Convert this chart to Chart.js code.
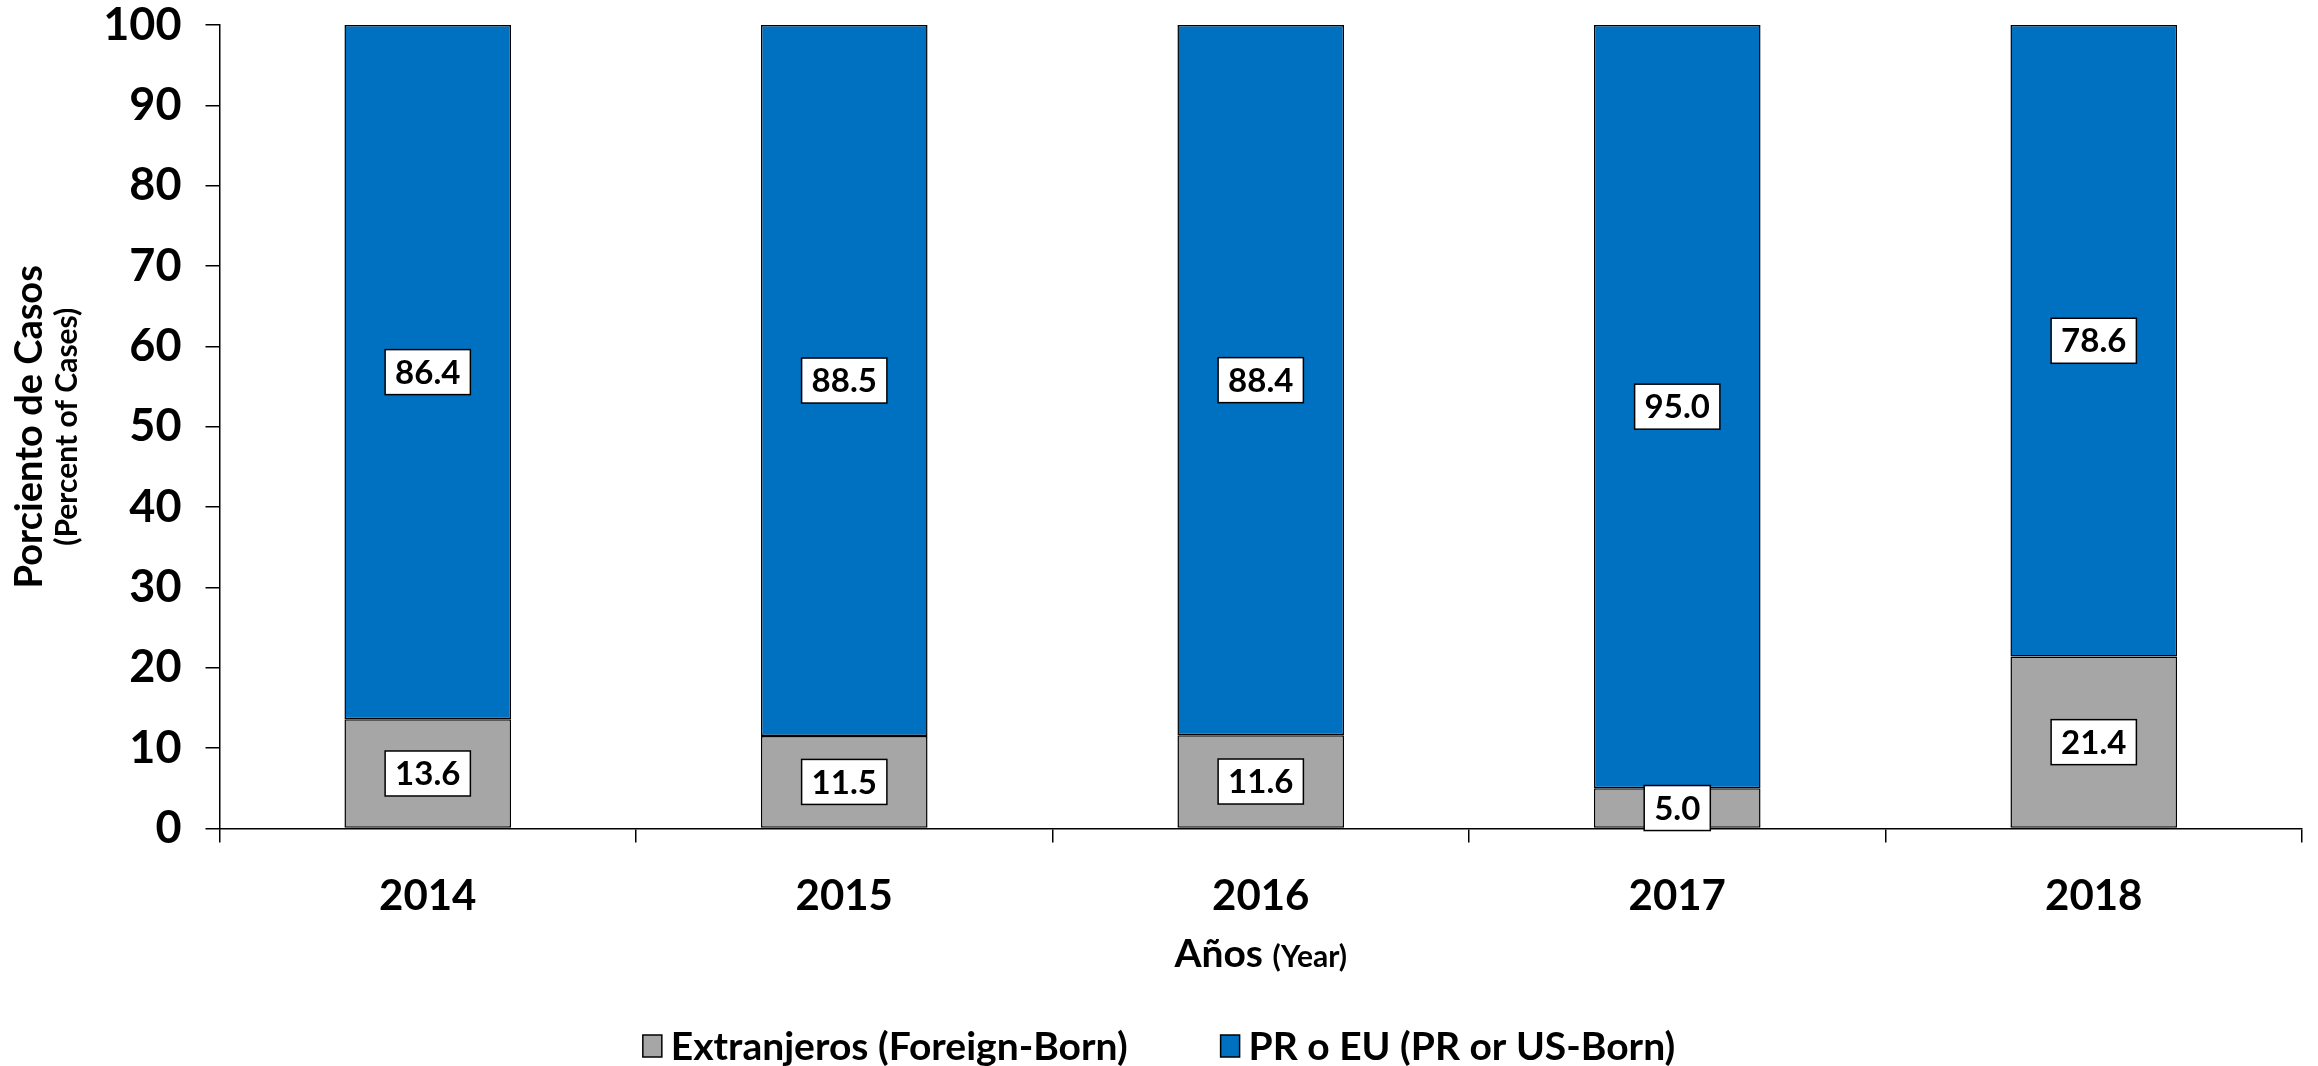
<!DOCTYPE html>
<html>
<head>
<meta charset="utf-8">
<script src="https://cdn.jsdelivr.net/npm/chart.js@4"></script>
<style>
  html, body { margin: 0; padding: 0; background: #ffffff; }
  #wrap { width: 2318px; height: 1066px; }
</style>
</head>
<body>
<div id="wrap"><canvas id="c" width="2318" height="1066"></canvas></div>
<script>
const categories = ['2014', '2015', '2016', '2017', '2018'];
const foreignBorn = [13.6, 11.5, 11.6, 5.0, 21.4];
const usBorn = [86.4, 88.5, 88.4, 95.0, 78.6];
const seriesNames = ['Extranjeros (Foreign-Born)', 'PR o EU (PR or US-Born)'];
const yTitleMain = 'Porciento de Casos';
const yTitleSub = '(Percent of Cases)';
const xTitleMain = 'Años';
const xTitleSub = '(Year)';

const FONT = 'Lato, "Open Sans", "Liberation Sans", sans-serif';

const labelPlugin = {
  id: 'boxLabels',
  afterDatasetsDraw(chart) {
    const ctx = chart.ctx;
    ctx.save();
    ctx.font = 'bold 33px ' + FONT;
    ctx.textAlign = 'center';
    ctx.textBaseline = 'middle';
    chart.data.datasets.forEach((ds, di) => {
      const meta = chart.getDatasetMeta(di);
      meta.data.forEach((bar, i) => {
        const v = ds.data[i];
        const txt = v.toFixed(1);
        const cx = bar.x;
        const cy = (bar.y + bar.base) / 2;
        const w = ctx.measureText(txt).width + 20;
        const h = 45;
        ctx.fillStyle = '#ffffff';
        ctx.fillRect(cx - w / 2, cy - h / 2, w, h);
        ctx.strokeStyle = '#000000';
        ctx.lineWidth = 1.5;
        ctx.strokeRect(cx - w / 2, cy - h / 2, w, h);
        ctx.fillStyle = '#000000';
        ctx.fillText(txt, cx, cy + 1);
      });
    });
    ctx.restore();
  }
};

const titlesPlugin = {
  id: 'titlesLegend',
  afterDraw(chart) {
    const ctx = chart.ctx;
    const ca = chart.chartArea;
    ctx.save();
    ctx.fillStyle = '#000000';
    // Y axis title (rotated, two lines)
    const cy = (ca.top + ca.bottom) / 2;
    ctx.save();
    ctx.translate(30, cy);
    ctx.rotate(-Math.PI / 2);
    ctx.textAlign = 'center';
    ctx.textBaseline = 'middle';
    ctx.font = 'bold 38px ' + FONT;
    ctx.fillText(yTitleMain, 0, 0);
    ctx.restore();
    ctx.save();
    ctx.translate(67, cy);
    ctx.rotate(-Math.PI / 2);
    ctx.textAlign = 'center';
    ctx.textBaseline = 'middle';
    ctx.font = 'bold 30px ' + FONT;
    ctx.fillText(yTitleSub, 0, 0);
    ctx.restore();

    // X axis title (mixed sizes)
    const cx = (ca.left + ca.right) / 2;
    const xy = 953;
    ctx.textBaseline = 'alphabetic';
    ctx.textAlign = 'left';
    ctx.font = 'bold 39px ' + FONT;
    const w1 = ctx.measureText(xTitleMain + ' ').width;
    ctx.font = 'bold 30px ' + FONT;
    const w2 = ctx.measureText(xTitleSub).width;
    let x0 = cx - (w1 + w2) / 2;
    ctx.font = 'bold 39px ' + FONT;
    ctx.fillText(xTitleMain + ' ', x0, xy + 14);
    ctx.font = 'bold 30px ' + FONT;
    ctx.fillText(xTitleSub, x0 + w1, xy + 14);

    // Legend
    const ly = 1046;
    ctx.font = 'bold 39px ' + FONT;
    const boxW = 19, boxH = 22, gap = 9, itemGap = 93;
    const widths = seriesNames.map(n => ctx.measureText(n).width);
    const total = widths.reduce((a, b) => a + b, 0) + 2 * (boxW + gap) + itemGap;
    let lx = chart.width / 2 - total / 2;
    chart.data.datasets.forEach((ds, i) => {
      ctx.fillStyle = ds.backgroundColor;
      ctx.fillRect(lx, ly - boxH / 2, boxW, boxH);
      ctx.strokeStyle = '#000000';
      ctx.lineWidth = 1.5;
      ctx.strokeRect(lx, ly - boxH / 2, boxW, boxH);
      ctx.fillStyle = '#000000';
      ctx.textBaseline = 'middle';
      ctx.fillText(seriesNames[i], lx + boxW + gap, ly + 1);
      lx += boxW + gap + widths[i] + itemGap;
    });
    ctx.restore();
  }
};

new Chart(document.getElementById('c'), {
  type: 'bar',
  data: {
    labels: categories,
    datasets: [
      {
        label: seriesNames[0],
        data: foreignBorn,
        backgroundColor: '#A6A6A6',
        borderColor: '#000000',
        borderWidth: 1.5,
        borderSkipped: false,
        barPercentage: 0.4,
        categoryPercentage: 1.0
      },
      {
        label: seriesNames[1],
        data: usBorn,
        backgroundColor: '#0070C0',
        borderColor: '#000000',
        borderWidth: 1.5,
        borderSkipped: false,
        barPercentage: 0.4,
        categoryPercentage: 1.0
      }
    ]
  },
  options: {
    responsive: false,
    animation: false,
    devicePixelRatio: 1,
    layout: { padding: { left: 0, top: 25, right: 16, bottom: 0 } },
    plugins: {
      legend: { display: false },
      tooltip: { enabled: false },
      title: { display: false }
    },
    scales: {
      x: {
        stacked: true,
        offset: true,
        grid: {
          offset: true,
          drawOnChartArea: false,
          drawTicks: true,
          tickLength: 14,
          color: '#000000',
          lineWidth: 1.5
        },
        border: { display: true, color: '#000000', width: 1.5 },
        ticks: {
          color: '#000000',
          font: { family: FONT, size: 42, weight: 'bold' },
          padding: 29,
          maxRotation: 0
        },
        afterFit(scale) {
          scale.height = 1066 - 828.5;
          scale.paddingLeft = 0;
          scale.paddingRight = 0;
        }
      },
      y: {
        stacked: true,
        min: 0,
        max: 100,
        grid: {
          drawOnChartArea: false,
          drawTicks: true,
          tickLength: 14,
          color: '#000000',
          lineWidth: 1.5
        },
        border: { display: true, color: '#000000', width: 1.5 },
        ticks: {
          stepSize: 10,
          color: '#000000',
          font: { family: FONT, size: 45, weight: 'bold' },
          padding: 24
        },
        afterFit(scale) {
          scale.width = 219.5;
          scale.paddingTop = 0;
          scale.paddingBottom = 0;
        }
      }
    }
  },
  plugins: [labelPlugin, titlesPlugin]
});
</script>
</body>
</html>
